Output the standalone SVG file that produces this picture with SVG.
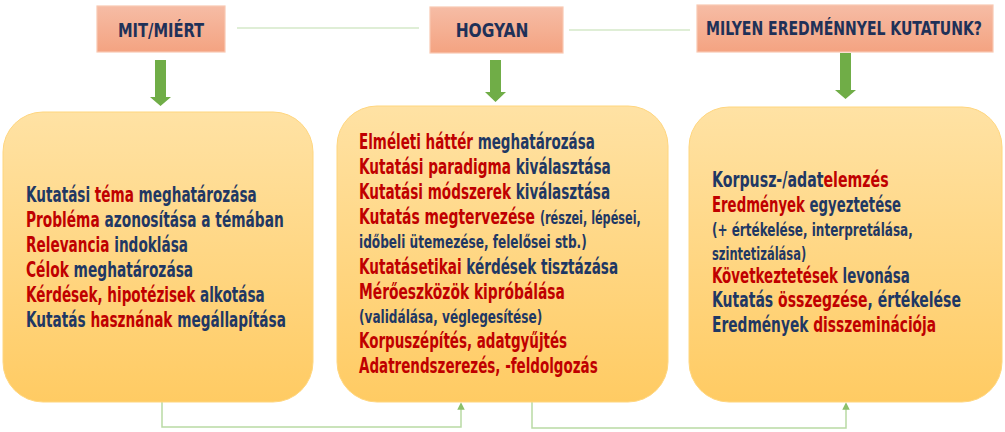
<svg xmlns="http://www.w3.org/2000/svg" width="1005" height="432" viewBox="0 0 1005 432">
<defs>
<linearGradient id="gBox" x1="0" y1="0" x2="0" y2="1">
<stop offset="0" stop-color="#FFE2A4"/>
<stop offset="1" stop-color="#FFCB63"/>
</linearGradient>
<linearGradient id="gHead" x1="0" y1="0" x2="0" y2="1">
<stop offset="0" stop-color="#F6BCA5"/>
<stop offset="1" stop-color="#F4A381"/>
</linearGradient>
<marker id="ah" viewBox="0 0 10 10" refX="5" refY="5" markerWidth="5" markerHeight="5" orient="auto">
<path d="M0,0 L10,5 L0,10 z" fill="#8CC06B"/>
</marker>
<style>
.box{fill:url(#gBox);stroke:#FFD67E;stroke-width:1}
.head{fill:url(#gHead);stroke:#F9C9B2;stroke-width:1.2}
.ht{font-family:"DejaVu Sans Condensed","DejaVu Sans",sans-serif;font-weight:bold;font-size:19px;fill:#1F3158;text-anchor:middle}
.t{font-family:"DejaVu Sans Condensed","DejaVu Sans",sans-serif;font-weight:bold;font-size:21px;fill:#1F3864}
.s{font-size:17px}
.r{fill:#C00000}
.link{fill:none;stroke:#D5E8C8;stroke-width:1.5}
.conn{fill:none;stroke:#B9DAA4;stroke-width:1.5}
.arr{fill:#70AD47}
</style>
</defs>
<rect width="1005" height="432" fill="#FFFFFF"/>

<g id="connectors">
<line class="link" x1="237" y1="28" x2="419" y2="28"/>
<line class="link" x1="569" y1="30" x2="690" y2="30"/>
<polygon class="arr" points="155,60 166,60 166,97 171,97 160.5,106 150,97 155,97"/>
<polygon class="arr" points="490,60 501,60 501,92 506,92 495.5,102 485,92 490,92"/>
<polygon class="arr" points="840,53 851,53 851,90 856,90 845.5,99 835,90 840,90"/>
<polyline class="conn" points="162,402 162,427 461,427 461,406" marker-end="url(#ah)"/>
<polyline class="conn" points="532,402 532,428 846,428 846,406" marker-end="url(#ah)"/>
</g>

<g id="h1">
<rect class="head" x="97" y="6" width="128" height="46"/>
<text class="ht" transform="translate(161,37) scale(0.75,1)" x="0" y="0" textLength="115" lengthAdjust="spacingAndGlyphs">MIT/MIÉRT</text>
</g>
<g id="h2">
<rect class="head" x="430" y="7" width="133" height="46"/>
<text class="ht" transform="translate(492,37) scale(0.75,1)" x="0" y="0" textLength="97" lengthAdjust="spacingAndGlyphs">HOGYAN</text>
</g>
<g id="h3">
<rect class="head" x="697" y="5" width="296" height="47"/>
<text class="ht" transform="translate(844,35) scale(0.75,1)" x="0" y="0" textLength="368" lengthAdjust="spacingAndGlyphs">MILYEN EREDMÉNNYEL KUTATUNK?</text>
</g>

<g id="b1">
<rect class="box" x="3" y="112" width="310" height="290" rx="40" ry="40"/>
<g transform="translate(26,0) scale(0.73,1)">
<text class="t" x="0" y="202" textLength="316" lengthAdjust="spacingAndGlyphs">Kutatási <tspan class="r">téma</tspan> meghatározása</text>
<text class="t" x="0" y="227" textLength="353" lengthAdjust="spacingAndGlyphs"><tspan class="r">Probléma</tspan> azonosítása a témában</text>
<text class="t" x="0" y="252" textLength="222" lengthAdjust="spacingAndGlyphs"><tspan class="r">Relevancia</tspan> indoklása</text>
<text class="t" x="0" y="277" textLength="229" lengthAdjust="spacingAndGlyphs"><tspan class="r">Célok</tspan> meghatározása</text>
<text class="t" x="0" y="302" textLength="327" lengthAdjust="spacingAndGlyphs"><tspan class="r">Kérdések, hipotézisek</tspan> alkotása</text>
<text class="t" x="0" y="327" textLength="356" lengthAdjust="spacingAndGlyphs">Kutatás <tspan class="r">hasznának</tspan> megállapítása</text>
</g>
</g>

<g id="b2">
<rect class="box" x="337" y="106" width="331" height="296" rx="40" ry="40"/>
<g transform="translate(359,0) scale(0.73,1)">
<text class="t" x="0" y="149" textLength="323" lengthAdjust="spacingAndGlyphs"><tspan class="r">Elméleti háttér</tspan> meghatározása</text>
<text class="t" x="0" y="174" textLength="345" lengthAdjust="spacingAndGlyphs"><tspan class="r">Kutatási paradigma</tspan> kiválasztása</text>
<text class="t" x="0" y="199" textLength="344" lengthAdjust="spacingAndGlyphs"><tspan class="r">Kutatási módszerek</tspan> kiválasztása</text>
<text class="t" x="0" y="224" textLength="386" lengthAdjust="spacingAndGlyphs"><tspan class="r">Kutatás megtervezése</tspan> <tspan class="s">(részei, lépései,</tspan></text>
<text class="t s" x="0" y="248" textLength="312" lengthAdjust="spacingAndGlyphs">időbeli ütemezése, felelősei stb.)</text>
<text class="t" x="0" y="274" textLength="355" lengthAdjust="spacingAndGlyphs"><tspan class="r">Kutatásetikai</tspan> kérdések tisztázása</text>
<text class="t r" x="0" y="299" textLength="282" lengthAdjust="spacingAndGlyphs">Mérőeszközök kipróbálása</text>
<text class="t s" x="0" y="323" textLength="251" lengthAdjust="spacingAndGlyphs">(validálása, véglegesítése)</text>
<text class="t r" x="0" y="348" textLength="285" lengthAdjust="spacingAndGlyphs">Korpuszépítés, adatgyűjtés</text>
<text class="t r" x="0" y="373" textLength="327" lengthAdjust="spacingAndGlyphs">Adatrendszerezés, -feldolgozás</text>
</g>
</g>

<g id="b3">
<rect class="box" x="689" y="107" width="313" height="295" rx="40" ry="40"/>
<g transform="translate(712,0) scale(0.73,1)">
<text class="t" x="0" y="187" textLength="242" lengthAdjust="spacingAndGlyphs">Korpusz-/adat<tspan class="r">elemzés</tspan></text>
<text class="t" x="0" y="212" textLength="259" lengthAdjust="spacingAndGlyphs"><tspan class="r">Eredmények</tspan> egyeztetése</text>
<text class="t s" x="0" y="236" textLength="275" lengthAdjust="spacingAndGlyphs">(+ értékelése, interpretálása,</text>
<text class="t s" x="0" y="260" textLength="129" lengthAdjust="spacingAndGlyphs">szintetizálása)</text>
<text class="t" x="0" y="283" textLength="271" lengthAdjust="spacingAndGlyphs"><tspan class="r">Következtetések</tspan> levonása</text>
<text class="t" x="0" y="307" textLength="341" lengthAdjust="spacingAndGlyphs">Kutatás <tspan class="r">összegzése</tspan>, értékelése</text>
<text class="t" x="0" y="332" textLength="307" lengthAdjust="spacingAndGlyphs">Eredmények <tspan class="r">disszeminációja</tspan></text>
</g>
</g>
</svg>
